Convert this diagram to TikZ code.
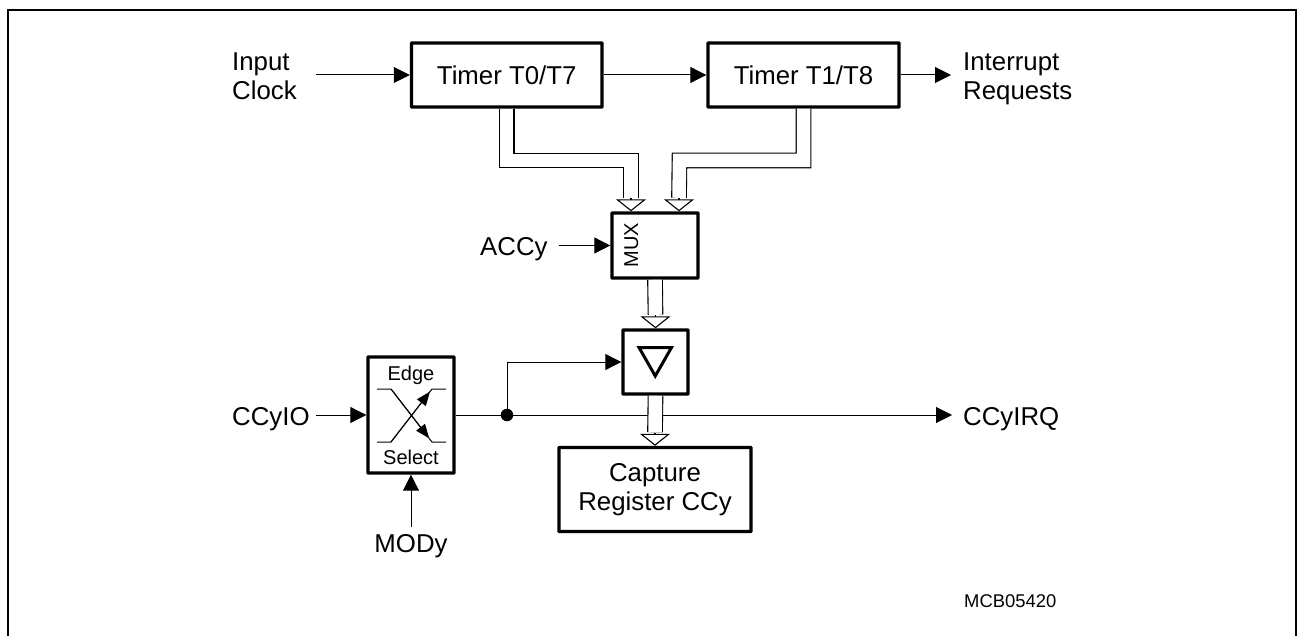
\documentclass[tikz,border=0pt]{standalone}
\usepackage{fontspec}
\setmainfont{Liberation Sans}
\usetikzlibrary{arrows.meta,calc}
\tikzset{
  box/.style={draw,line width=3.4pt,inner sep=0pt,rounded corners=0.6pt,align=center,font=\fontsize{25.8}{29}\selectfont},
  lbl/.style={inner sep=0pt,align=left,font=\fontsize{25.8}{29}\selectfont},
  small/.style={inner sep=0pt,font=\fontsize{20}{24}\selectfont},
  sig/.style={line width=1pt,-{Triangle[length=16pt,width=16pt]}},
  wire/.style={line width=1pt},
  bus/.style={double,draw=black,double=white,double distance=13.5pt,line width=1.1pt},
  bustip/.style={line width=1.1pt,-{Triangle[open,fill=white,length=12pt,width=30pt]}},
  minitip/.style={line width=1pt,-{Triangle[length=14pt,width=11pt]}},
}
\begin{document}
\begin{tikzpicture}[x=1pt,y=-1pt]
\useasboundingbox (0,0) rectangle (1297,636);
% frame
\draw[line width=2pt] (7.5,636) -- (7.5,10.5) -- (1296,10.5) -- (1296,636);
% boxes
\node[box,minimum width=190.5pt,minimum height=64pt] (t0) at (506.7,75) {Timer T0/T7};
\node[box,minimum width=191pt,minimum height=64pt] (t1) at (803.5,75) {Timer T1/T8};
\node[box,minimum width=86pt,minimum height=65pt] (mux) at (655,245.5) {};
\node[box,minimum width=65pt,minimum height=64pt] (cond) at (655.5,362) {};
\node[box,minimum width=86pt,minimum height=116pt] (sel) at (411,415) {};
\node[box,minimum width=192pt,minimum height=84pt] (cap) at (655,489.5) {Capture\\Register CCy};
% labels
\node[lbl,anchor=base west] (lin) at (232,100) {Input\\Clock};
\node[lbl,anchor=base west] (lout) at (963,100) {Interrupt\\Requests};
\node[lbl,anchor=base west] (laccy) at (480,255) {ACCy};
\node[lbl,anchor=base west] (lio) at (232,425) {CCyIO};
\node[lbl,anchor=base] (lmod) at (411,552) {MODy};
\node[lbl,anchor=base west] (lirq) at (963,425) {CCyIRQ};
\node[small,anchor=base,rotate=90] (lmux) at (638,245) {MUX};
\node[small,anchor=base] (ledge) at (411,380) {Edge};
\node[small,anchor=base] (lsel) at (411,464) {Select};
\node[small,anchor=base west,font=\fontsize{18.4}{24}\selectfont] (lmcb) at (964,607) {MCB05420};
% free ends
\coordinate (m0) at ([xshift=-24pt]mux.north);
\coordinate (m1) at ([xshift=24pt]mux.north);
\coordinate (bend0) at (631,160.5);
\coordinate (bend1) at (679.5,160.5);
\coordinate (inS) at (316,75);
\coordinate (outE) at (951,75);
\coordinate (accS) at (559,245.5);
\coordinate (ioS) at (316,415);
\coordinate (modS) at (411,527);
\coordinate (irqE) at (952,415);
% signal arrows
\draw[sig] (inS) -- (t0.west);
\draw[sig] (t0.east) -- (t1.west);
\draw[sig] (t1.east) -- (outE);
\draw[sig] (accS) -- (mux.west);
\draw[sig] (ioS) -- (sel.west);
\draw[sig] (modS) -- (sel.south);
\draw[sig] (sel.east) -- (irqE);
\node[circle,fill=black,inner sep=0pt,minimum size=12.5pt] (dot) at (507,415) {};
\draw[sig] (dot.center) |- (cond.west);
% buses
\draw[bustip] ([yshift=13pt]m0) -- (m0);
\draw[bustip] ([yshift=13pt]m1) -- (m1);
\draw[bustip] ([yshift=13pt]cond.north) -- (cond.north);
\draw[bustip] ([yshift=13pt]cap.north) -- (cap.north);
\draw[bus] (t0.south) |- (bend0) -- ([yshift=13.5pt]m0);
\draw[bus] (t1.south) |- (bend1) -- ([yshift=13.5pt]m1);
\draw[bus] (mux.south) -- ([yshift=13.5pt]cond.north);
\draw[bus] (cond.south) -- ([yshift=13.5pt]cap.north);
% edge select symbol
\coordinate (xa) at (377,389);
\coordinate (xb) at (391,389);
\coordinate (xc) at (432,442);
\coordinate (xd) at (446,442);
\coordinate (ya) at (377,442);
\coordinate (yb) at (391,442);
\coordinate (yc) at (432,389);
\coordinate (yd) at (446,389);
\draw[wire] (xa) -- (xb) -- (xc) -- (xd);
\draw[wire] (ya) -- (yb) -- (yc) -- (yd);
\draw[minitip] (xb) -- ($(xb)!0.93!(xc)$);
\draw[minitip] (yb) -- ($(yb)!0.95!(yc)$);
% trigger triangle
\draw[line width=3pt,line join=miter] (639,347.5) -- (671.5,347.5) -- (655.25,376) -- cycle;
\end{tikzpicture}
\end{document}
